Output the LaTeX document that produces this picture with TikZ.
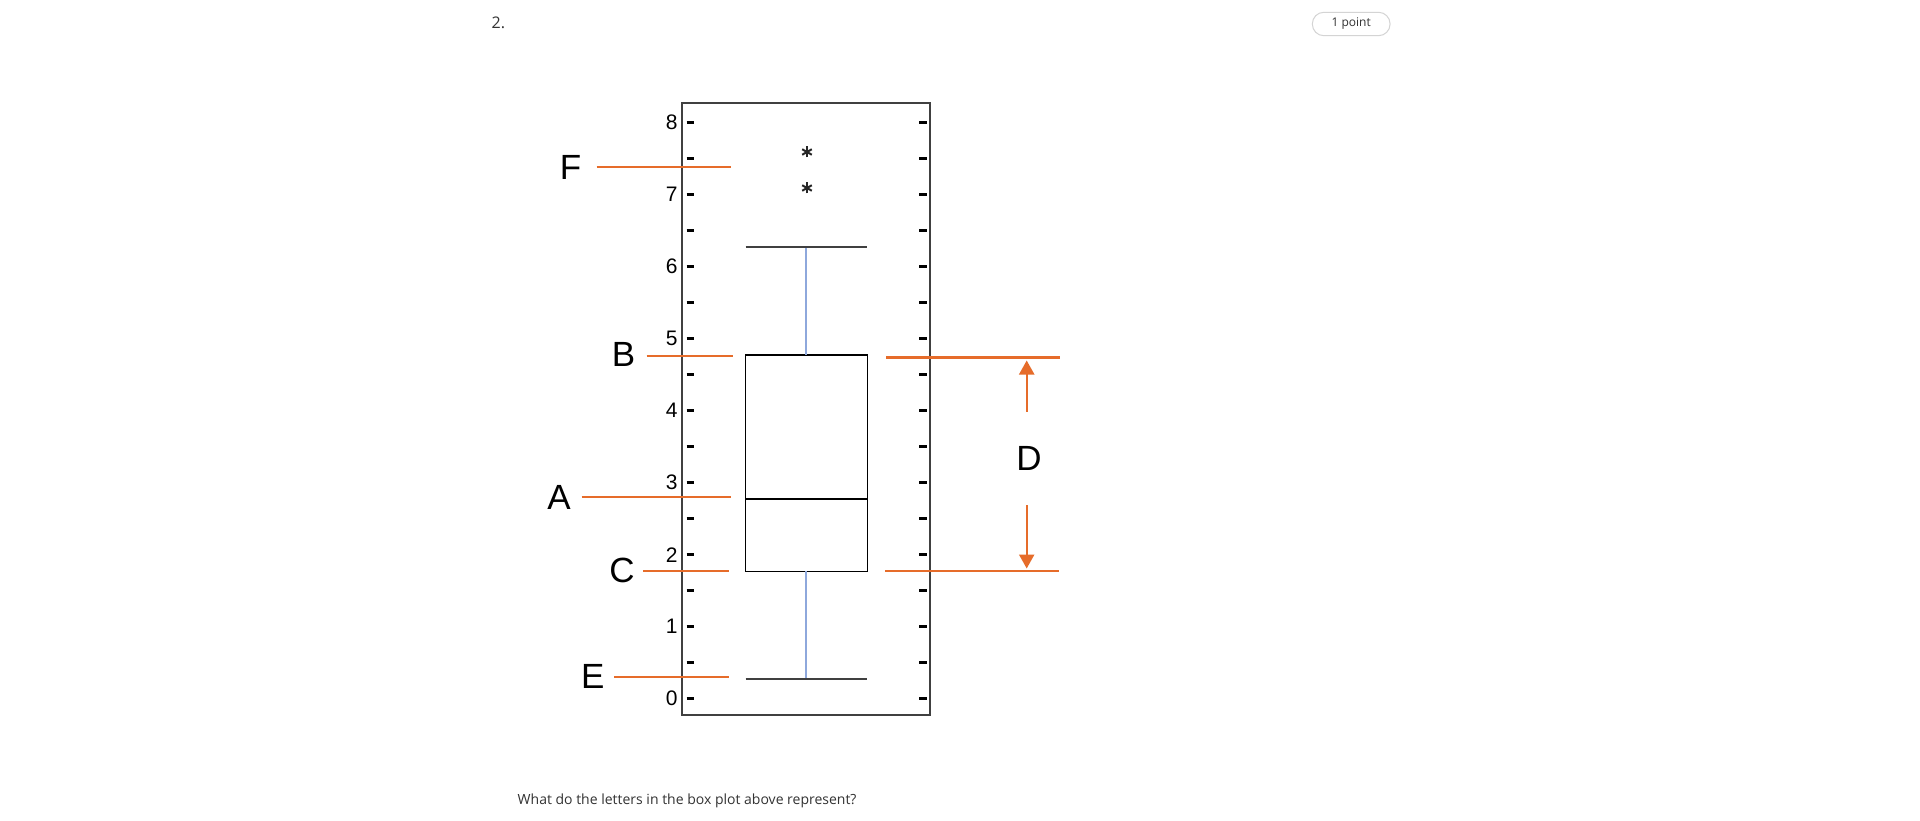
\documentclass[tikz,border=0pt]{standalone}
\usepackage{fontspec}
\setmainfont{Liberation Sans}
\newfontfamily\uifont{Open Sans}
\usetikzlibrary{arrows.meta}
\definecolor{orng}{RGB}{230,108,42}
\definecolor{whblue}{RGB}{142,168,220}
\definecolor{framegray}{RGB}{64,64,64}
\definecolor{uitext}{RGB}{51,51,51}
\definecolor{pillgray}{RGB}{212,212,212}
\tikzset{
  orline/.style={draw=orng, line width=2.2pt},
  tickmark/.style={draw=black, line width=3pt},
  letterlbl/.style={inner sep=0pt, font=\fontsize{35}{40}\selectfont},
  numlbl/.style={inner sep=0pt, anchor=east, font=\fontsize{21}{25}\selectfont},
  capline/.style={draw=framegray, line width=1.8pt},
  whisk/.style={draw=whblue, line width=1.6pt},
  darrow/.style={draw=orng, line width=2.2pt, -{Triangle[width=15pt,length=14pt]}},
  starmark/.style={draw=black!85, line width=2pt}
}
\begin{document}
\begin{tikzpicture}[x=1pt,y=-1pt]
\useasboundingbox[fill=white] (0,0) rectangle (1920,821);

% header
\node[anchor=base west, inner sep=0pt, text=uitext, font=\uifont\fontsize{16}{19}\selectfont] (qnum) at (491.5,29) {2.};
\node[draw=pillgray, line width=1pt, rounded corners=11.5pt, minimum width=77.7pt, minimum height=23.4pt, inner sep=0pt] (pill) at (1351.2,24) {};
\node[inner sep=0pt, text=uitext, font=\uifont\fontsize{12}{14}\selectfont] (pts) at (pill.center) {1 point};

% frame
\coordinate (fnw) at (681.7,102.7);
\coordinate (fse) at (930,715);
\draw[framegray, line width=2pt] (fnw) rectangle (fse);

% ticks and numbers
\foreach \k in {0,...,16} {
  \pgfmathsetmacro{\ty}{698.7-36*\k}
  \draw[tickmark] (686.7,\ty) -- (694,\ty);
  \draw[tickmark] (919.3,\ty) -- (926.7,\ty);
}
\foreach \n in {0,...,8} {
  \pgfmathsetmacro{\ny}{698.7-72*\n}
  \node[numlbl] (num\n) at (677.8,\ny) {\n};
}

% box plot
\coordinate (bnw) at (745.7,355);
\coordinate (bse) at (867.3,571.3);
\draw[black, line width=1.5pt] (bnw) rectangle (bse);
\coordinate (medl) at (745.7,499);
\coordinate (medr) at (867.3,499);
\draw[black, line width=1.5pt] (medl) -- (medr);
\coordinate (ucl) at (745.7,246.7);
\coordinate (ucr) at (867.3,246.7);
\coordinate (lcl) at (745.7,679.3);
\coordinate (lcr) at (867.3,679.3);
\coordinate (uc) at (806,246.7);
\coordinate (lc) at (806,679.3);
\coordinate (bt) at (806,355);
\coordinate (bb) at (806,571.3);
\draw[whisk] (uc) -- (bt);
\draw[whisk] (bb) -- (lc);
\draw[capline] (ucl) -- (ucr);
\draw[capline] (lcl) -- (lcr);

% outliers
\foreach \sy [count=\i] in {152,188} {
  \coordinate (star\i) at (807,\sy);
  \draw[starmark] ([yshift=-5.5pt]star\i) -- ([yshift=5.5pt]star\i);
  \draw[starmark] ([shift={(-4.8pt,-2.75pt)}]star\i) -- ([shift={(4.8pt,2.75pt)}]star\i);
  \draw[starmark] ([shift={(-4.8pt,2.75pt)}]star\i) -- ([shift={(4.8pt,-2.75pt)}]star\i);
}

% letters and orange lines
\node[letterlbl] (F) at (570.5,167) {F};
\coordinate (Fa) at (596.7,167);
\coordinate (Fb) at (731,167);
\draw[orline] (Fa) -- (Fb);

\node[letterlbl] (B) at (623.5,354.7) {B};
\coordinate (Ba) at (646.7,355.7);
\coordinate (Bb) at (732.7,355.7);
\draw[orline] (Ba) -- (Bb);

\node[letterlbl] (A) at (559,497) {A};
\coordinate (Aa) at (581.7,497.3);
\coordinate (Ab) at (731,497.3);
\draw[orline] (Aa) -- (Ab);

\node[letterlbl] (C) at (622,570) {C};
\coordinate (Ca) at (643.3,570.7);
\coordinate (Cb) at (729.3,570.7);
\draw[orline] (Ca) -- (Cb);

\node[letterlbl] (E) at (592.7,676.7) {E};
\coordinate (Ea) at (614,677.3);
\coordinate (Eb) at (728.7,677.3);
\draw[orline] (Ea) -- (Eb);

% D dimension
\coordinate (Dta) at (886,357.5);
\coordinate (Dtb) at (1060,357.5);
\coordinate (Dba) at (885,570.7);
\coordinate (Dbb) at (1059,570.7);
\draw[orline] (Dta) -- (Dtb);
\draw[orline] (Dba) -- (Dbb);
\node[letterlbl] (D) at (1029,458.3) {D};
\coordinate (Dus) at (1026.7,411.7);
\coordinate (Dut) at (1026.7,360.5);
\coordinate (Dds) at (1026.7,505);
\coordinate (Ddt) at (1026.7,568.5);
\draw[darrow] (Dus) -- (Dut);
\draw[darrow] (Dds) -- (Ddt);

% question
\node[anchor=base west, inner sep=0pt, text=uitext, font=\uifont\fontsize{14}{17}\selectfont] (question) at (517.5,804.3) {What do the letters in the box plot above represent?};
\end{tikzpicture}
\end{document}
